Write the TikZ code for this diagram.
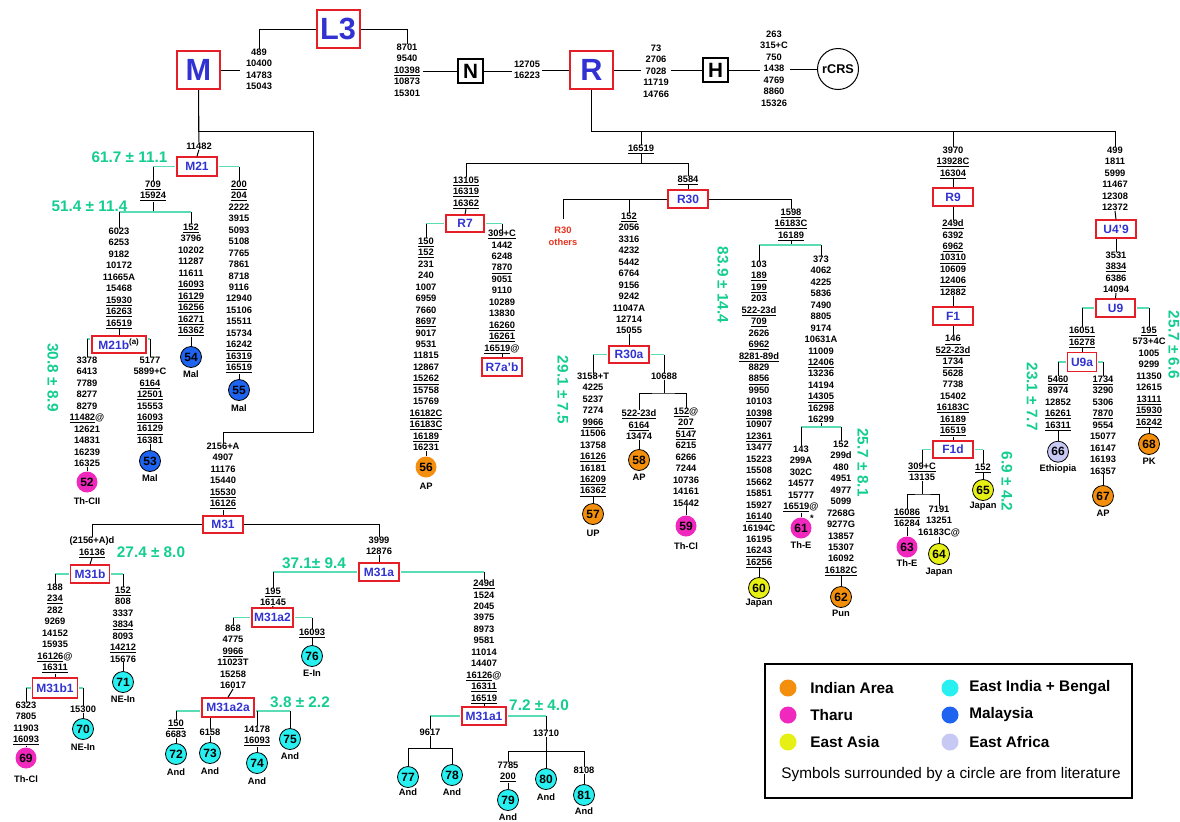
\documentclass[tikz,border=0pt]{standalone}
\usepackage{fontspec}
\setmainfont{Liberation Sans}
\usetikzlibrary{calc}
\definecolor{corange}{RGB}{243,143,12}
\definecolor{cmag}{RGB}{240,40,190}
\definecolor{cyel}{RGB}{230,240,20}
\definecolor{ccyan}{RGB}{40,240,240}
\definecolor{cblue}{RGB}{30,100,240}
\definecolor{clav}{RGB}{200,200,245}
\definecolor{gtxt}{RGB}{20,205,145}
\definecolor{gline}{RGB}{90,220,180}
\definecolor{boxred}{RGB}{230,30,40}
\definecolor{boxblue}{RGB}{50,50,210}
\definecolor{redtxt}{RGB}{230,50,30}
\newcommand{\uu}[1]{\underline{#1}}
\newcommand{\ml}[4]{\node[ml] (#1) at (#2,#3-3.5) {#4};}
\newcommand{\gbr}[3]{%
 \draw[gl,shorten >=0.6pt] (#1.north |- #2) -- (#2.west);
 \draw[gl,shorten <=0.6pt] (#2.east) -- (#3.north |- #2);
 \draw[bl] (#1.north |- #2) -- (#1.north) (#3.north |- #2) -- (#3.north);}
\begin{document}
\begin{tikzpicture}[x=0.75pt,y=-0.75pt,
 ml/.style={anchor=north,align=center,inner sep=0pt,font=\bfseries\fontsize{7}{8.6}\selectfont},
 hb/.style={draw=boxred,line width=1.1pt,text=boxblue,font=\bfseries\fontsize{9}{9}\selectfont,inner sep=0pt,minimum width=30pt,minimum height=13.5pt},
 bigb/.style={draw=boxred,line width=1.5pt,text=boxblue,font=\bfseries\fontsize{23}{23}\selectfont,inner sep=0pt,minimum width=32.25pt,minimum height=28.5pt},
 blk/.style={draw=black,line width=0.9pt,font=\bfseries\fontsize{15.5}{15.5}\selectfont,inner sep=0pt,minimum width=18.75pt,minimum height=18pt},
 circ/.style={circle,inner sep=0pt,minimum size=15.75pt,font=\bfseries\fontsize{9}{9}\selectfont},
 lit/.style={draw=black,line width=0.6pt},
 lab/.style={inner sep=0pt,font=\bfseries\fontsize{7}{7}\selectfont},
 gt/.style={inner sep=0pt,text=gtxt,font=\bfseries\fontsize{11.5}{11.5}\selectfont},
 bl/.style={draw=black,line width=0.75pt},
 gl/.style={draw=gline,line width=1.1pt},
 lc/.style={circle,inner sep=0pt,minimum size=12.75pt},
 lt/.style={anchor=west,inner sep=0pt,font=\bfseries\fontsize{11.5}{11.5}\selectfont},
]
\useasboundingbox (0,0) rectangle (1180,821);

% ---------- top row ----------
\node[bigb] (L3) at (338,29) {L3};
\node[bigb] (M) at (198.5,70) {M};
\node[bigb] (R) at (591.5,70) {R};
\node[blk] (N) at (470.5,71) {N};
\node[blk] (H) at (715.5,70) {H};
\node[circle,draw=black,line width=0.75pt,minimum size=30.75pt,inner sep=0pt,font=\bfseries\fontsize{9.5}{9.5}\selectfont] (rCRS) at (838,69) {rCRS};
\ml{t489}{259}{52}{489\\10400\\14783\\15043}
\ml{t8701}{407}{47}{8701\\9540\\\uu{10398}\\10873\\15301}
\ml{t12705}{527}{64}{12705\\16223}
\ml{t73}{656}{48}{73\\2706\\7028\\11719\\14766}
\ml{t263}{774}{34}{263\\315+C\\750\\1438\\4769\\8860\\15326}
\draw[bl] (L3.west) -| (t489.north);
\draw[bl] (L3.east) -| (t8701.north);
\draw[bl,shorten >=4.5pt] (M.east) -- (t489.west |- M.east);
\draw[bl,shorten >=2pt] (N.west) -- (t8701.east |- N.west);
\draw[bl,shorten >=1pt] (N.east) -- (t12705.west |- N.east);
\draw[bl,shorten >=1pt] (R.west) -- (t12705.east |- R.west);
\draw[bl,shorten >=1pt] (R.east) -- (t73.west |- R.east);
\draw[bl,shorten >=1.5pt] (H.west) -- (t73.east |- H.west);
\draw[bl] (H.east) -- (t263.west |- H.east);
\draw[bl,shorten >=1.5pt] (rCRS.west) -- (t263.east |- rCRS.west);

% ---------- M branch ----------
\ml{t11482}{199}{146}{11482}
\node[hb,minimum height=14.25pt] (M21) at (197,166.5) {M21};
\coordinate (mA) at (313,131);
\coordinate (mB) at (313,432);
\ml{t2156}{223}{446}{2156+A\\4907\\11176\\15440\\\uu{15530}\\\uu{16126}}
\draw[bl] (M.south) -- (t11482.north);
\draw[bl] (M.south) |- (mA) -- (mB) -| (t2156.north);
\draw[bl] (t11482.south) -- (M21.north);
\node[gt] (g617) at (129.5,157) {61.7 ± 11.1};
\ml{t709}{153}{184}{\uu{709}\\\uu{15924}}
\ml{t200}{239}{184}{\uu{200}\\\uu{204}\\2222\\3915\\5093\\5108\\7765\\7861\\8718\\9116\\12940\\15106\\15511\\15734\\\uu{16242}\\\uu{16319}\\\uu{16519}}
\gbr{t709}{M21}{t200}
\node[circ,lit,fill=cblue] (c55) at (239,390) {55};
\node[lab] (l55) at (239,408) {Mal};
\draw[bl] (t200.south) -- (c55.north);

\coordinate (j51) at (153,212);
\node[gt] (g514) at (89.5,206) {51.4 ± 11.4};
\ml{t6023}{119}{231}{6023\\6253\\9182\\10172\\11665A\\15468\\\uu{15930}\\\uu{16263}\\\uu{16519}}
\ml{t152a}{191}{227}{\uu{152}\\3796\\10202\\11287\\11611\\\uu{16093}\\\uu{16129}\\\uu{16256}\\\uu{16271}\\\uu{16362}}
\draw[bl] (t709.south) -- (j51);
\draw[gl] (t6023.north |- j51) -- (t152a.north |- j51);
\draw[bl] (t6023.north |- j51) -- (t6023.north) (t152a.north |- j51) -- (t152a.north);
\node[circ,lit,fill=cblue] (c54) at (191,357) {54};
\node[lab] (l54) at (191,374) {Mal};
\draw[bl] (t152a.south) -- (c54.north);

\node[hb,minimum width=40.5pt,minimum height=12.75pt] (M21b) at (119,344.5) {M21b\textsuperscript{\color{black}(a)}};
\draw[bl] (t6023.south) -- (M21b.north);
\coordinate (gb) at (0,339);
\ml{t3378}{87}{360}{3378\\6413\\7789\\8277\\8279\\\uu{11482}@\\12621\\14831\\16239\\16325}
\ml{t5177}{150}{360}{5177\\5899+C\\\uu{6164}\\\uu{12501}\\15553\\\uu{16093}\\\uu{16129}\\16381}
\draw[gl,shorten >=0.6pt] (t3378.north |- gb) -- (M21b.west |- gb);
\draw[gl,shorten <=0.6pt] (M21b.east |- gb) -- (t5177.north |- gb);
\draw[bl] (t3378.north |- gb) -- (t3378.north) (t5177.north |- gb) -- (t5177.north);
\node[gt,rotate=-90] (g308) at (53,377.5) {30.8 ± 8.9};
\node[circ,fill=cmag] (c52) at (87,482) {52};
\node[lab] (l52) at (87,501) {Th-CII};
\draw[bl] (t3378.south) -- (c52.north);
\node[circ,lit,fill=cblue] (c53) at (150,461) {53};
\node[lab] (l53) at (150,478) {Mal};
\draw[bl] (t5177.south) -- (c53.north);

% ---------- M31 ----------
\node[hb,minimum height=12.75pt] (M31) at (223,524.5) {M31};
\draw[bl] (t2156.south) -- (M31.north);
\ml{t2156d}{92}{540}{(2156+A)d\\\uu{16136}}
\ml{t3999}{379}{540}{3999\\12876}
\draw[bl] (M31.west) -| (t2156d.north);
\draw[bl] (M31.east) -| (t3999.north);
\node[gt] (g274) at (151,552) {27.4 ± 8.0};
\node[hb,minimum width=29.25pt] (M31b) at (90,574) {M31b};
\draw[bl] (t2156d.south) -- (M31b.north);
\ml{t188}{55}{587}{188\\\uu{234}\\282\\9269\\14152\\15935\\\uu{16126}@\\\uu{16311}}
\ml{t152b}{123}{590}{\uu{152}\\808\\3337\\\uu{3834}\\8093\\\uu{14212}\\15676}
\gbr{t188}{M31b}{t152b}
\node[circ,lit,fill=ccyan] (c71) at (123,682) {71};
\node[lab] (l71) at (123,699) {NE-In};
\draw[bl] (t152b.south) -- (c71.north);
\node[hb,minimum width=33.75pt,minimum height=15pt] (M31b1) at (55,688) {M31b1};
\draw[bl] (t188.south) -- (M31b1.north);
\ml{t6323}{26}{705}{6323\\7805\\11903\\\uu{16093}}
\ml{t15300}{83}{709}{15300}
\gbr{t6323}{M31b1}{t15300}
\node[circ,fill=cmag] (c69) at (26,758) {69};
\node[lab] (l69) at (26,779) {Th-Cl};
\draw[bl] (t6323.south) -- (c69.north);
\node[circ,lit,fill=ccyan] (c70) at (83,729) {70};
\node[lab] (l70) at (83,747) {NE-In};
\draw[bl] (t15300.south) -- (c70.north);

% ---------- M31a ----------
\node[hb] (M31a) at (379,572) {M31a};
\draw[bl] (t3999.south) -- (M31a.north);
\node[gt] (g371) at (314,563) {37.1± 9.4};
\ml{t195}{273}{591}{\uu{195}\\16145}
\ml{t249d}{484}{583}{\uu{249d}\\1524\\2045\\3975\\8973\\9581\\11014\\14407\\\uu{16126}@\\\uu{16311}\\\uu{16519}}
\gbr{t195}{M31a}{t249d}
\node[hb,minimum width=30.75pt,minimum height=14.25pt] (M31a2) at (272.5,617.5) {M31a2};
\draw[bl] (t195.south) -- (M31a2.north);
\ml{t868}{233}{628}{868\\4775\\\uu{9966}\\11023T\\15258\\16017}
\ml{t16093c}{312}{632}{\uu{16093}}
\gbr{t868}{M31a2}{t16093c}
\node[circ,lit,fill=ccyan] (c76) at (312,656) {76};
\node[lab] (l76) at (312,673) {E-In};
\draw[bl] (t16093c.south) -- (c76.north);
\node[hb,minimum width=39pt,minimum height=14.25pt] (M31a2a) at (228,707.5) {M31a2a};
\draw[bl] (t868.south) -- (M31a2a.north);
\coordinate (g2a) at (0,711);
\node[gt] (g38) at (300,702) {3.8 ± 2.2};
\ml{t150}{176}{723}{\uu{150}\\6683}
\ml{t6158}{210}{732}{6158}
\ml{t14178}{257}{729}{14178\\\uu{16093}}
\node[circ,lit,fill=ccyan] (c75) at (290,739) {75};
\node[lab] (l75) at (290,756) {And};
\draw[gl,shorten >=0.6pt] (t150.north |- g2a) -- (M31a2a.west |- g2a);
\draw[gl,shorten <=0.6pt] (M31a2a.east |- g2a) -- (c75.north |- g2a);
\draw[bl] (t150.north |- g2a) -- (t150.north) (t14178.north |- g2a) -- (t14178.north) (c75.north |- g2a) -- (c75.north);
\draw[bl] (t6158.north |- M31a2a.south) -- (t6158.north);
\node[circ,lit,fill=ccyan] (c72) at (176,754) {72};
\node[lab] (l72) at (176,772) {And};
\draw[bl] (t150.south) -- (c72.north);
\node[circ,lit,fill=ccyan] (c73) at (210,753) {73};
\node[lab] (l73) at (210,771) {And};
\draw[bl] (t6158.south) -- (c73.north);
\node[circ,lit,fill=ccyan] (c74) at (257,763) {74};
\node[lab] (l74) at (257,781) {And};
\draw[bl] (t14178.south) -- (c74.north);

\node[hb,minimum width=33pt] (M31a1) at (484,716) {M31a1};
\draw[bl] (t249d.south) -- (M31a1.north);
\node[gt] (g72) at (539,705) {7.2 ± 4.0};
\ml{t9617}{430}{732}{9617}
\ml{t13710}{546}{733}{13710}
\gbr{t9617}{M31a1}{t13710}
\coordinate (j96) at (430,748);
\node[circ,lit,fill=ccyan] (c77) at (408,777) {77};
\node[lab] (l77) at (408,792) {And};
\node[circ,lit,fill=ccyan] (c78) at (452,775) {78};
\node[lab] (l78) at (452,792) {And};
\draw[bl] (t9617.south) -- (j96);
\draw[bl] (c77.north) |- (j96) -| (c78.north);
\coordinate (j137) at (546,751);
\ml{t7785}{508}{765}{7785\\\uu{200}}
\ml{t8108}{584}{770}{8108}
\node[circ,lit,fill=ccyan] (c79) at (508,800) {79};
\node[lab] (l79) at (508,817) {And};
\node[circ,lit,fill=ccyan] (c80) at (546,779) {80};
\node[lab] (l80) at (546,797) {And};
\node[circ,lit,fill=ccyan] (c81) at (584,795) {81};
\node[lab] (l81) at (584,811) {And};
\draw[bl] (t13710.south) -- (c80.north);
\draw[bl] (t7785.north) |- (j137) -| (t8108.north);
\draw[bl] (t7785.south) -- (c79.north);
\draw[bl] (t8108.south) -- (c81.north);

% ---------- R branch ----------
\coordinate (rh) at (0,131);
\coordinate (rh2) at (0,163);
\ml{t16519}{641}{148}{\uu{16519}}
\ml{t3970}{953}{150}{3970\\\uu{13928C}\\\uu{16304}}
\ml{t499}{1115}{150}{499\\1811\\5999\\11467\\12308\\12372}
\draw[bl] (R.south) |- (t499.north |- rh) -- (t499.north);
\draw[bl] (t16519.north |- rh) -- (t16519.north);
\draw[bl] (t3970.north |- rh) -- (t3970.north);
\ml{t13105}{466}{180}{\uu{13105}\\\uu{16319}\\\uu{16362}}
\ml{t8584}{688}{179}{\uu{8584}}
\draw[bl] (t16519.south) -- (t16519.south |- rh2);
\draw[bl] (t13105.north) |- (t8584.north |- rh2) -- (t8584.north);

% R7
\node[hb,minimum width=28.5pt,minimum height=12.75pt] (R7) at (465,223.5) {R7};
\draw[bl] (t13105.south) -- (R7.north);
\ml{t150r}{426}{241}{\uu{150}\\\uu{152}\\231\\240\\1007\\6959\\7660\\\uu{8697}\\9017\\9531\\11815\\12867\\\uu{15262}\\15758\\15769\\\uu{16182C}\\\uu{16183C}\\\uu{16189}\\16231}
\ml{t309}{502}{233.3}{\uu{309+C}\\1442\\6248\\\uu{7870}\\9051\\9110\\10289\\13830\\\uu{16260}\\\uu{16261}\\\uu{16519}@}
\gbr{t150r}{R7}{t309}
\node[circ,fill=corange] (c56) at (426,467) {56};
\node[lab] (l56) at (426,486) {AP};
\draw[bl] (t150r.south) -- (c56.north);
\node[hb] (R7ab) at (502,367) {R7a'b};
\draw[bl] (t309.south) -- (R7ab.north);

% R30
\node[hb] (R30) at (688,199) {R30};
\draw[bl] (t8584.south) -- (R30.north);
\node[inner sep=0pt,anchor=north,align=center,text=redtxt,font=\bfseries\fontsize{7}{9}\selectfont] (r30o) at (563,227) {R30\\others};
\ml{t152r}{629}{216}{\uu{152}\\2056\\3316\\4232\\5442\\6764\\9156\\9242\\11047A\\12714\\15055}
\ml{t1598}{791}{212}{\uu{1598}\\\uu{16183C}\\\uu{16189}}
\draw[bl,shorten >=6pt] (R30.west) -| (r30o.north);
\draw[bl] (t152r.north |- R30) -- (t152r.north);
\draw[bl] (R30.east) -| (t1598.north);

\node[hb,minimum height=12.75pt] (R30a) at (629,354.5) {R30a};
\draw[bl] (t152r.south) -- (R30a.north);
\node[gt,rotate=-90] (g291) at (563,390) {29.1 ± 7.5};
\ml{t3158}{593}{376}{3158+T\\4225\\5237\\7274\\\uu{9966}\\11506\\13758\\\uu{16126}\\16181\\\uu{16209}\\\uu{16362}}
\ml{t10688}{664}{376}{10688}
\gbr{t3158}{R30a}{t10688}
\node[circ,lit,fill=corange] (c57) at (593,514) {57};
\node[lab] (l57) at (593,533) {UP};
\draw[bl] (t3158.south) -- (c57.north);
\coordinate (j106) at (664,393);
\ml{t522}{639}{413}{\uu{522-23d}\\\uu{6164}\\13474}
\ml{t152s}{686}{411}{\uu{152}@\\\uu{207}\\\uu{5147}\\6215\\6266\\7244\\10736\\14161\\15442}
\draw[bl] (t10688.south) -- (j106);
\draw[bl] (t522.north) |- (j106) -| (t152s.north);
\node[circ,lit,fill=corange] (c58) at (639,460) {58};
\node[lab] (l58) at (639,477) {AP};
\draw[bl] (t522.south) -- (c58.north);
\node[circ,fill=cmag] (c59) at (686,526) {59};
\node[lab] (l59) at (686,546) {Th-Cl};
\draw[bl] (t152s.south) -- (c59.north);

\coordinate (g159) at (0,245);
\node[gt,rotate=-90] (g839) at (723,285) {83.9 ± 14.4};
\ml{t103}{759}{264}{103\\\uu{189}\\\uu{199}\\203\\\uu{522-23d}\\\uu{709}\\2626\\\uu{6962}\\\uu{8281-89d}\\8829\\\uu{8856}\\9950\\10103\\\uu{10398}\\10907\\\uu{12361}\\13477\\15223\\15508\\15662\\15851\\15927\\\uu{16140}\\16194C\\16195\\\uu{16243}\\\uu{16256}}
\ml{t373}{821}{259}{373\\4062\\4225\\5836\\7490\\8805\\9174\\10631A\\11009\\\uu{12406}\\13236\\14194\\\uu{14305}\\16298\\16299}
\draw[bl] (t1598.south) -- (t1598.south |- g159);
\draw[gl] (t103.north |- g159) -- (t373.north |- g159);
\draw[bl] (t103.north |- g159) -- (t103.north) (t373.north |- g159) -- (t373.north);
\node[circ,lit,fill=cyel] (c60) at (759,588) {60};
\node[lab] (l60) at (759,603) {Japan};
\draw[bl] (t103.south) -- (c60.north);

\coordinate (g373) at (0,427);
\node[gt,rotate=-90] (g257) at (863,462.5) {25.7 ± 8.1};
\ml{t143}{801}{449}{143\\299A\\302C\\14577\\15777\\\uu{16519}@}
\ml{t152t}{841}{444}{152\\299d\\480\\4951\\4977\\5099\\7268G\\9277G\\13857\\15307\\16092\\\uu{16182C}}
\draw[bl] (t373.south) -- (t373.south |- g373);
\draw[gl] (t143.north |- g373) -- (t152t.north |- g373);
\draw[bl] (t143.north |- g373) -- (t143.north) (t152t.north |- g373) -- (t152t.north);
\node[circ,fill=cmag] (c61) at (801,528) {61};
\node[lab] (star) at (812,518) {*};
\node[lab] (l61) at (801,545) {Th-E};
\draw[bl] (t143.south) -- (c61.north);
\node[circ,lit,fill=corange] (c62) at (841,597) {62};
\node[lab] (l62) at (841,613) {Pun};
\draw[bl] (t152t.south) -- (c62.north);

% ---------- R9 / F ----------
\node[hb] (R9) at (953,197) {R9};
\draw[bl] (t3970.south) -- (R9.north);
\ml{t249f}{953}{223}{\uu{249d}\\6392\\\uu{6962}\\\uu{10310}\\10609\\\uu{12406}\\12882}
\draw[bl] (R9.south) -- (t249f.north);
\node[hb] (F1) at (953,316) {F1};
\draw[bl] (t249f.south) -- (F1.north);
\ml{t146}{953}{338.7}{\uu{146}\\\uu{522-23d}\\\uu{1734}\\5628\\7738\\15402\\\uu{16183C}\\\uu{16189}\\\uu{16519}}
\draw[bl] (F1.south) -- (t146.north);
\node[hb,minimum height=12.75pt] (F1d) at (953,449.5) {F1d};
\draw[bl] (t146.south) -- (F1d.north);
\node[gt,rotate=-90] (g69) at (1007,481.7) {6.9 ± 4.2};
\ml{t309f}{922}{466}{\uu{309+C}\\13135}
\ml{t152f}{983}{467}{\uu{152}}
\gbr{t309f}{F1d}{t152f}
\node[circ,lit,fill=cyel] (c65) at (983,490) {65};
\node[lab] (l65) at (983,506) {Japan};
\draw[bl] (t152f.south) -- (c65.north);
\coordinate (j309) at (922,494);
\ml{t16086}{907}{512}{\uu{16086}\\16284}
\ml{t7191}{939}{509}{7191\\13251\\16183C@}
\draw[bl] (t309f.south) -- (j309);
\draw[bl] (t16086.north) |- (j309) -| (t7191.north);
\node[circ,fill=cmag] (c63) at (907,547) {63};
\node[lab] (l63) at (907,563) {Th-E};
\draw[bl] (t16086.south) -- (c63.north);
\node[circ,lit,fill=cyel] (c64) at (939,554) {64};
\node[lab] (l64) at (939,572) {Japan};
\draw[bl] (t7191.south) -- (c64.north);

% ---------- U ----------
\node[hb] (U49) at (1116,229) {U4'9};
\draw[bl] (t499.south) -- (U49.north);
\ml{t3531}{1116}{255}{3531\\\uu{3834}\\6386\\14094}
\draw[bl] (U49.south) -- (t3531.north);
\node[hb,minimum width=29.25pt] (U9) at (1115.5,308) {U9};
\draw[bl] (t3531.south) -- (U9.north);
\node[gt,rotate=-90] (g257u) at (1174,345) {25.7 ± 6.6};
\ml{t16051}{1082}{330.7}{\uu{16051}\\\uu{16278}}
\ml{t195u}{1149}{330}{\uu{195}\\573+4C\\1005\\9299\\11350\\12615\\\uu{13111}\\\uu{15930}\\\uu{16242}}
\gbr{t16051}{U9}{t195u}
\node[circ,lit,fill=corange] (c68) at (1149,444) {68};
\node[lab] (l68) at (1149,461.7) {PK};
\draw[bl] (t195u.south) -- (c68.north);
\node[hb,minimum width=21.75pt,minimum height=14.25pt] (U9a) at (1082,362) {U9a};
\draw[bl] (t16051.south) -- (U9a.north);
\node[gt,rotate=-90] (g231) at (1032,396.7) {23.1 ± 7.7};
\ml{t5460}{1058}{379}{\uu{5460}\\8974\\12852\\\uu{16261}\\\uu{16311}}
\ml{t1734u}{1103}{379}{\uu{1734}\\3290\\5306\\\uu{7870}\\9554\\15077\\16147\\16193\\16357}
\gbr{t5460}{U9a}{t1734u}
\node[circ,lit,fill=clav] (c66) at (1058,451.7) {66};
\node[lab] (l66) at (1058,469) {Ethiopia};
\draw[bl] (t5460.south) -- (c66.north);
\node[circ,lit,fill=corange] (c67) at (1103,496) {67};
\node[lab] (l67) at (1103,513) {AP};
\draw[bl] (t1734u.south) -- (c67.north);

% ---------- legend ----------
\node[draw=black,line width=1.1pt,minimum width=275.25pt,minimum height=100.5pt,inner sep=0pt] (legend) at (948.5,731) {};
\node[lc,fill=corange] (lg1) at (788,688) {};
\node[lc,fill=cmag] (lg2) at (788,715) {};
\node[lc,fill=cyel] (lg3) at (788,742) {};
\node[lc,fill=ccyan] (lg4) at (950,688) {};
\node[lc,fill=cblue] (lg5) at (950,715) {};
\node[lc,fill=clav] (lg6) at (950,742) {};
\node[lt] (lt1) at (810,688) {Indian Area};
\node[lt] (lt2) at (810,715) {Tharu};
\node[lt] (lt3) at (810,742) {East Asia};
\node[lt] (lt4) at (969,688) {East India + Bengal};
\node[lt] (lt5) at (969,715) {Malaysia};
\node[lt] (lt6) at (969,742) {East Africa};
\node[inner sep=0pt,font=\fontsize{11.5}{11.5}\selectfont] (lnote) at (951,775) {Symbols surrounded by a circle are from literature};
\end{tikzpicture}
\end{document}
